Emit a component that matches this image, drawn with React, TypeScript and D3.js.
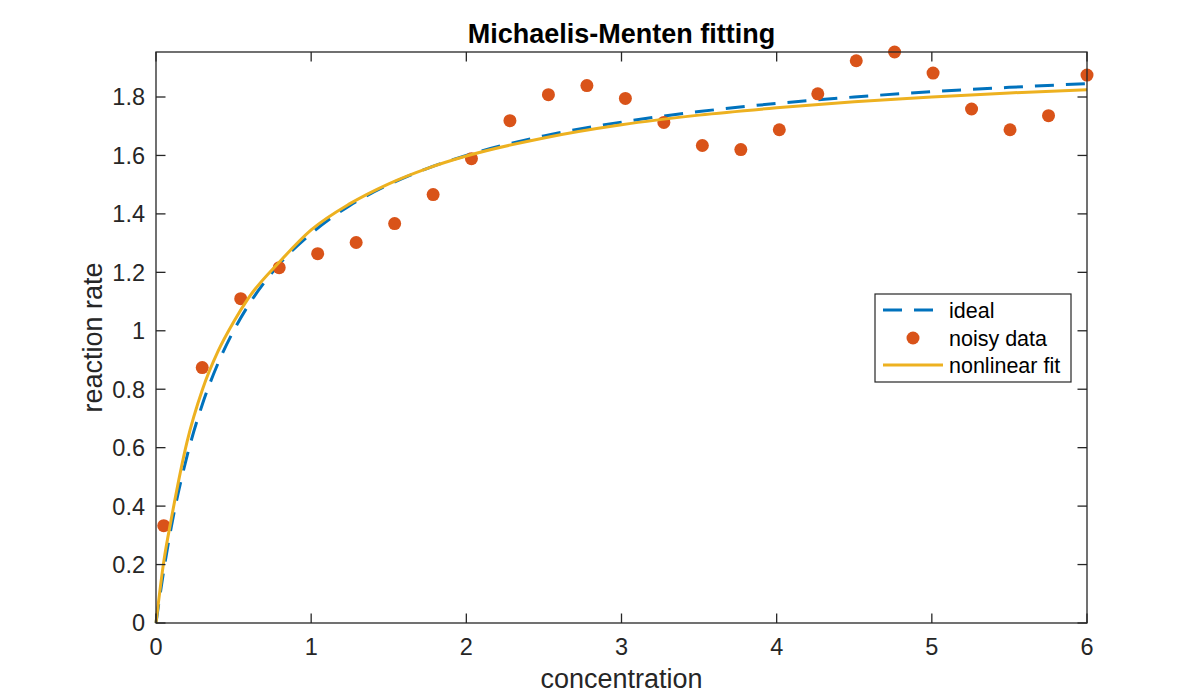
import { useEffect, useRef } from 'react';
import * as d3 from 'd3';

// Noisy measurements (concentration, rate)
const dataX = [
  0.05, 0.298, 0.546, 0.794, 1.042, 1.29, 1.538, 1.786, 2.033, 2.281, 2.529, 2.777, 3.025,
  3.273, 3.521, 3.769, 4.017, 4.265, 4.513, 4.76, 5.008, 5.256, 5.504, 5.752, 6.0,
];
const dataY = [
  0.333, 0.874, 1.11, 1.216, 1.264, 1.302, 1.367, 1.466, 1.589, 1.719, 1.808, 1.839, 1.795,
  1.713, 1.634, 1.62, 1.688, 1.811, 1.924, 1.954, 1.882, 1.759, 1.688, 1.736, 1.875,
];

// Curves at these concentrations
const curveX = [0, 0.05, 0.1, 0.2, 0.3, 0.4, 0.5, 0.6, 0.8, 1, 1.25, 1.5, 1.75, 2, 2.5, 3, 3.5, 4, 4.5, 5, 5.5, 6];
const idealY = [
  0, 0.18, 0.333, 0.571, 0.75, 0.889, 1.0, 1.091, 1.231, 1.333, 1.429, 1.5, 1.556, 1.6, 1.667,
  1.714, 1.75, 1.778, 1.8, 1.818, 1.833, 1.846,
];
const fitY = [
  0, 0.21, 0.36, 0.62, 0.8, 0.93, 1.03, 1.115, 1.238, 1.345, 1.435, 1.503, 1.556, 1.598, 1.66,
  1.705, 1.738, 1.763, 1.784, 1.8, 1.814, 1.825,
];

const xTicks = [0, 1, 2, 3, 4, 5, 6];
const yTicks = [0, 0.2, 0.4, 0.6, 0.8, 1, 1.2, 1.4, 1.6, 1.8];
const legendLabels = ['ideal', 'noisy data', 'nonlinear fit'];

const BLUE = '#0072BD';
const ORANGE = '#D95319';
const YELLOW = '#EDB120';
const AXIS = '#262626';
const FONT = '"Liberation Sans", Arial, Helvetica, sans-serif';

export default function App() {
  const ref = useRef<SVGSVGElement>(null);

  useEffect(() => {
    if (!ref.current) return;
    const svg = d3.select(ref.current);
    svg.selectAll('*').remove();

    const left = 156, right = 1087, top = 52, bottom = 623;
    const x = d3.scaleLinear().domain([0, 6]).range([left, right]);
    const y = d3.scaleLinear().domain([0, d3.max(dataY) as number]).range([bottom, top]);
    const tickLen = 9.5;

    // curves
    const line = d3
      .line<number>()
      .x((_, i) => x(curveX[i]))
      .curve(d3.curveMonotoneX);

    svg
      .append('path')
      .attr('d', line.y(d => y(d))(idealY))
      .attr('fill', 'none')
      .attr('stroke', BLUE)
      .attr('stroke-width', 3)
      .attr('stroke-dasharray', '19,12');

    svg
      .append('g')
      .selectAll('circle')
      .data(dataY)
      .join('circle')
      .attr('cx', (_, i) => x(dataX[i]))
      .attr('cy', d => y(d))
      .attr('r', 6.5)
      .attr('fill', ORANGE);

    svg
      .append('path')
      .attr('d', line.y(d => y(d))(fitY))
      .attr('fill', 'none')
      .attr('stroke', YELLOW)
      .attr('stroke-width', 3);

    // box and ticks
    const ax = svg.append('g').attr('stroke', AXIS).attr('stroke-width', 1.3);
    ax.append('rect')
      .attr('x', left)
      .attr('y', top)
      .attr('width', right - left)
      .attr('height', bottom - top)
      .attr('fill', 'none');

    xTicks.forEach(t => {
      ax.append('line').attr('x1', x(t)).attr('x2', x(t)).attr('y1', bottom).attr('y2', bottom - tickLen);
      ax.append('line').attr('x1', x(t)).attr('x2', x(t)).attr('y1', top).attr('y2', top + tickLen);
    });
    yTicks.forEach(t => {
      ax.append('line').attr('x1', left).attr('x2', left + tickLen).attr('y1', y(t)).attr('y2', y(t));
      ax.append('line').attr('x1', right).attr('x2', right - tickLen).attr('y1', y(t)).attr('y2', y(t));
    });

    const labels = svg.append('g').attr('font-family', FONT).attr('fill', AXIS);
    labels
      .selectAll('text.xt')
      .data(xTicks)
      .join('text')
      .attr('x', d => x(d))
      .attr('y', 655)
      .attr('text-anchor', 'middle')
      .attr('font-size', 23.5)
      .text(d => d3.format('~g')(d));

    labels
      .selectAll('text.yt')
      .data(yTicks)
      .join('text')
      .attr('x', left - 11)
      .attr('y', d => y(d))
      .attr('dy', '0.36em')
      .attr('text-anchor', 'end')
      .attr('font-size', 23.5)
      .text(d => d3.format('~g')(d));

    labels
      .append('text')
      .attr('x', (left + right) / 2)
      .attr('y', 688)
      .attr('text-anchor', 'middle')
      .attr('font-size', 27)
      .text('concentration');

    labels
      .append('text')
      .attr('transform', `translate(102,${(top + bottom) / 2}) rotate(-90)`)
      .attr('text-anchor', 'middle')
      .attr('font-size', 27)
      .text('reaction rate');

    svg
      .append('text')
      .attr('x', (left + right) / 2)
      .attr('y', 43)
      .attr('text-anchor', 'middle')
      .attr('font-family', FONT)
      .attr('font-weight', 'bold')
      .attr('font-size', 27)
      .attr('fill', '#000')
      .text('Michaelis-Menten fitting');

    // legend
    const lg = svg.append('g');
    lg.append('rect')
      .attr('x', 875)
      .attr('y', 294)
      .attr('width', 196)
      .attr('height', 88)
      .attr('fill', '#fff')
      .attr('stroke', AXIS)
      .attr('stroke-width', 1.2);
    const rows = [310, 338, 365];
    lg.append('line')
      .attr('x1', 883).attr('x2', 943).attr('y1', rows[0]).attr('y2', rows[0])
      .attr('stroke', BLUE).attr('stroke-width', 3).attr('stroke-dasharray', '19,12');
    lg.append('circle').attr('cx', 913).attr('cy', rows[1]).attr('r', 6.5).attr('fill', ORANGE);
    lg.append('line')
      .attr('x1', 883).attr('x2', 943).attr('y1', rows[2]).attr('y2', rows[2])
      .attr('stroke', YELLOW).attr('stroke-width', 3);
    lg.selectAll('text')
      .data(legendLabels)
      .join('text')
      .attr('x', 949)
      .attr('y', (_, i) => rows[i])
      .attr('dy', '0.36em')
      .attr('font-family', FONT)
      .attr('font-size', 21.5)
      .attr('fill', '#000')
      .text(d => d);
  }, []);

  return (
    <div style={{ position: 'absolute', left: 0, top: 0, width: 1200, height: 700, background: '#fff' }}>
      <svg ref={ref} width={1200} height={700} style={{ display: 'block' }} />
    </div>
  );
}
